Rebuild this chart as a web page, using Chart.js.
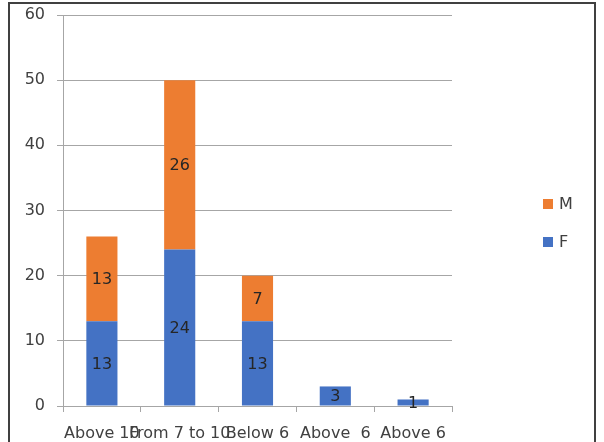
<!DOCTYPE html>
<html>
<head>
<meta charset="utf-8">
<script src="https://cdn.jsdelivr.net/npm/chart.js@4.4.1/dist/chart.umd.min.js"></script>
<style>
html,body{margin:0;padding:0;background:#fff;}
#wrap{position:relative;width:604px;height:442px;}
</style>
</head>
<body>
<div id="wrap"><canvas id="c" width="604" height="442"></canvas></div>
<script>
const categories = ['Above 10', 'From 7 to 10', 'Below 6', 'Above  6', 'Above 6'];
const femaleValues = [13, 24, 13, 3, 1];
const maleValues = [13, 26, 7, 0, 0];
const yTickValues = [0, 10, 20, 30, 40, 50, 60];
const seriesNames = ['F', 'M'];

const ORANGE = '#ED7D31';
const BLUE = '#4472C4';
const TEXT = '#404040';
const GRID = '#a6a6a6';
const FONT = 'DejaVu Sans';

const frame = {
  id: 'frame',
  beforeDraw(chart) {
    const ctx = chart.ctx;
    ctx.save();
    ctx.fillStyle = '#fff';
    ctx.fillRect(0, 0, chart.width, chart.height);
    ctx.strokeStyle = '#404040';
    ctx.lineWidth = 2;
    ctx.beginPath();
    ctx.moveTo(9, 460);
    ctx.lineTo(9, 3);
    ctx.lineTo(595, 3);
    ctx.lineTo(595, 460);
    ctx.stroke();
    ctx.restore();
  }
};

const barLabels = {
  id: 'barLabels',
  afterDatasetsDraw(chart) {
    const ctx = chart.ctx;
    ctx.save();
    ctx.font = '16px "' + FONT + '"';
    ctx.fillStyle = '#262626';
    ctx.textAlign = 'center';
    ctx.textBaseline = 'middle';
    chart.data.datasets.forEach((ds, di) => {
      const meta = chart.getDatasetMeta(di);
      meta.data.forEach((el, i) => {
        const v = ds.data[i];
        if (!v) return;
        const p = el.getProps(['x', 'y', 'base'], true);
        ctx.fillText(String(v), p.x, (p.y + p.base) / 2 + 1);
      });
    });
    ctx.restore();
  }
};

const sideLegend = {
  id: 'sideLegend',
  afterDraw(chart) {
    const ctx = chart.ctx;
    const items = [
      { label: seriesNames[1], color: ORANGE, y: 204 },
      { label: seriesNames[0], color: BLUE, y: 242 }
    ];
    ctx.save();
    ctx.font = '16px "' + FONT + '"';
    ctx.textAlign = 'left';
    ctx.textBaseline = 'middle';
    items.forEach(it => {
      ctx.fillStyle = it.color;
      ctx.fillRect(543, it.y - 5, 10, 10);
      ctx.fillStyle = TEXT;
      ctx.fillText(it.label, 559, it.y + 1);
    });
    ctx.restore();
  }
};

new Chart(document.getElementById('c'), {
  type: 'bar',
  data: {
    labels: categories,
    datasets: [
      { label: seriesNames[0], data: femaleValues, backgroundColor: BLUE, barPercentage: 0.4, categoryPercentage: 1 },
      { label: seriesNames[1], data: maleValues, backgroundColor: ORANGE, barPercentage: 0.4, categoryPercentage: 1 }
    ]
  },
  options: {
    responsive: false,
    animation: false,
    devicePixelRatio: 1,
    layout: { padding: { left: 0, right: 152, top: 15, bottom: 0 } },
    plugins: {
      legend: { display: false },
      tooltip: { enabled: false }
    },
    scales: {
      x: {
        stacked: true,
        offset: true,
        grid: { display: true, drawOnChartArea: false, drawTicks: true, tickLength: 6, color: GRID, lineWidth: 1, offset: true },
        border: { display: true, color: GRID, width: 1 },
        ticks: { autoSkip: false, maxRotation: 0, minRotation: 0, color: TEXT, font: { family: FONT, size: 16 }, padding: 12 },
        afterFit(scale) { scale.height = 36; scale.paddingLeft = 0; scale.paddingRight = 0; }
      },
      y: {
        stacked: true,
        min: 0,
        max: 60,
        afterBuildTicks(scale) { scale.ticks = yTickValues.map(v => ({ value: v })); },
        grid: { color: GRID, lineWidth: 1, tickLength: 6, drawTicks: true },
        border: { display: true, color: GRID, width: 1 },
        ticks: { color: TEXT, font: { family: FONT, size: 16 }, padding: 12 },
        afterFit(scale) { scale.width = 63; scale.paddingTop = 0; scale.paddingBottom = 0; }
      }
    }
  },
  plugins: [frame, barLabels, sideLegend]
});
</script>
</body>
</html>
